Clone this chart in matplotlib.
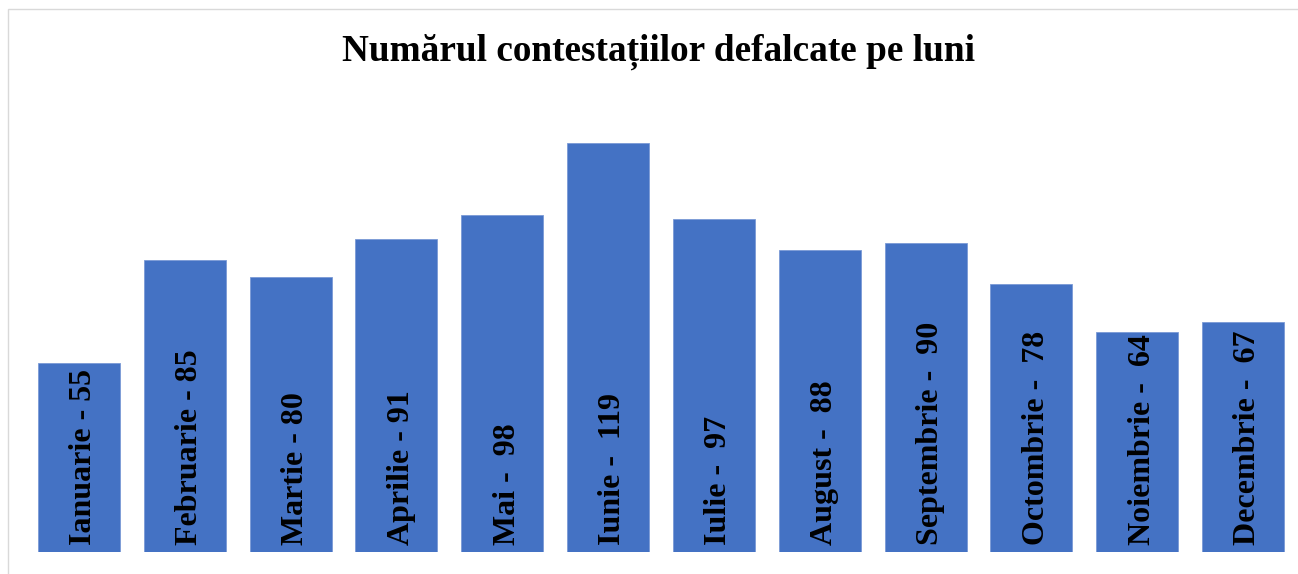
import matplotlib
matplotlib.use("Agg")
import matplotlib.pyplot as plt
from matplotlib.patches import Rectangle

# data
months = ["Ianuarie", "Februarie", "Martie", "Aprilie", "Mai", "Iunie",
          "Iulie", "August", "Septembrie", "Octombrie", "Noiembrie", "Decembrie"]
values = [55, 85, 80, 91, 98, 119, 97, 88, 90, 78, 64, 67]
separators = [" - ", " - ", " - ", " - ", " -  ", " -  ",
              " -  ", " -  ", " -  ", " -  ", " -  ", " -  "]

title = "Numărul contestațiilor defalcate pe luni"

plt.rcParams['font.family'] = ['Liberation Serif', 'DejaVu Serif']

fig = plt.figure(figsize=(12.98, 5.74), dpi=100)

# light chart border (Excel-like chart area)
fig.patches.append(Rectangle((8 / 1298, -0.1), 1.2, (574 - 9) / 574 + 0.1,
                             transform=fig.transFigure, fill=False,
                             edgecolor="#d9d9d9", linewidth=1))

# axes placed in pixel coordinates: bottom at y=552, left 26, right 1296
ax = fig.add_axes([26 / 1298, (574 - 552) / 574, (1296 - 26) / 1298, (552 - 100) / 574])

x = range(len(months))
ax.bar(x, values, width=0.775, color="#4472C4", edgecolor="#7a9ad6", linewidth=0.6)

# labels sit inside the base of each bar, shifted a touch to the right
for i, (m, sep, v) in enumerate(zip(months, separators, values)):
    ax.text(i + 0.045, 2.0, f"{m}{sep}{v}", rotation=90, ha="center", va="bottom",
            fontsize=23, fontweight="bold", color="black")

ax.set_xlim(-0.5, len(months) - 0.5)
ax.set_ylim(0, (552 - 100) / 3.437)
ax.axis("off")

fig.text(659 / 1298, 1 - 52 / 574, title, ha="center", va="center",
         fontsize=26.8, fontweight="bold")

fig.savefig("out.png", dpi=100)
